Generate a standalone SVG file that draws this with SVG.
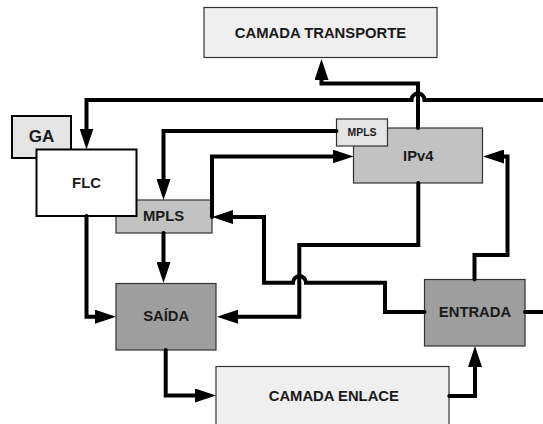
<svg xmlns="http://www.w3.org/2000/svg" width="543" height="424" viewBox="0 0 543 424">
<defs>
<marker id="ah" markerWidth="21" markerHeight="14" refX="0" refY="7" orient="auto" markerUnits="userSpaceOnUse">
<path d="M0,0 L21,7 L0,14 z" fill="#000"/>
</marker>
<style>
.box{stroke:#333;stroke-width:1.2}
.light{fill:#efefef}
.pale{fill:#e4e4e4}
.mid{fill:#c2c2c2}
.dark{fill:#9e9e9e}
.white{fill:#fff}
.thick{stroke:#000;stroke-width:2}
text{font-family:"Liberation Sans",Arial,Helvetica,sans-serif;font-weight:bold;fill:#1a1a1a;text-anchor:middle;font-size:14.8px}
.con path{fill:none;stroke:#000;stroke-width:4;stroke-linecap:round;stroke-linejoin:miter}
.arr{marker-end:url(#ah)}
</style>
</defs>
<rect width="543" height="424" fill="#fff"/>

<g id="camada-transporte">
<rect class="box light" x="204" y="7.5" width="233" height="50"/>
<text x="320.5" y="38">CAMADA TRANSPORTE</text>
</g>

<g id="ga">
<rect class="box pale thick" x="12" y="116" width="59" height="42"/>
<text x="41.5" y="142" style="font-size:17px">GA</text>
</g>

<g id="mpls">
<rect class="box mid" x="116" y="200" width="96" height="33"/>
<text x="163.5" y="220.7">MPLS</text>
</g>

<g id="flc">
<rect class="box white thick" x="36.5" y="149.5" width="100" height="66.5"/>
<text x="86.5" y="188.3">FLC</text>
</g>

<g id="ipv4">
<rect class="box mid" x="353.5" y="128" width="129" height="55"/>
<text x="418.3" y="160.7">IPv4</text>
</g>

<g id="mpls-small">
<rect class="box pale" x="336.5" y="119" width="51" height="27"/>
<text x="362" y="135.7" style="font-size:10.4px">MPLS</text>
</g>

<g id="saida">
<rect class="box dark" x="116" y="283.5" width="100" height="66.5"/>
<text x="166.2" y="321">SAÍDA</text>
</g>

<g id="entrada">
<rect class="box dark" x="424.5" y="279.5" width="100.5" height="66.5"/>
<text x="475" y="316.7">ENTRADA</text>
</g>

<g id="camada-enlace">
<rect class="box light" x="216" y="366.5" width="233" height="62"/>
<text x="333.8" y="400.7">CAMADA ENLACE</text>
</g>

<g id="connectors" class="con">
<path class="arr" d="M418,128 V83.5 H321.5 V80"/>
<path class="arr" d="M546,100 H424.5 A6.5,6.5 0 0 0 411.5,100 H86.5 V128.5"/>
<path class="arr" d="M336.5,131 H163.5 V179"/>
<path class="arr" d="M212,217 V156.5 H332.5"/>
<path class="arr" d="M424.5,312 H385 V282.7 H306 A6.5,6.5 0 0 0 293,282.7 H264 V217 H233"/>
<path class="arr" d="M418.3,183 V245 H299.3 V316.7 H238"/>
<path class="arr" d="M474.5,279.5 V255 H507.5 V156.5 H504"/>
<path d="M525,312 H546"/>
<path class="arr" d="M163.5,233 V262"/>
<path class="arr" d="M86.5,216 V316.7 H95"/>
<path class="arr" d="M165.7,350 V395.5 H195"/>
<path class="arr" d="M449.3,396 H475 V367"/>
</g>
</svg>
